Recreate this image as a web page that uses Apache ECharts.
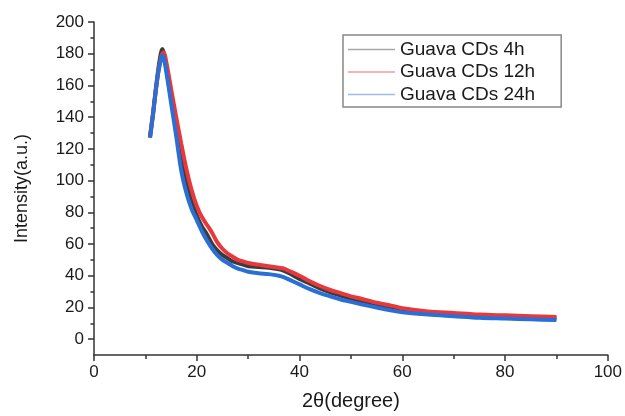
<!DOCTYPE html>
<html>
<head>
<meta charset="utf-8">
<script src="https://cdn.jsdelivr.net/npm/echarts@6/dist/echarts.min.js"></script>
<style>html,body{margin:0;padding:0;background:#fff}#c{width:625px;height:416px}</style>
</head>
<body>
<div id="c"></div>
<script>
const seriesNames = ['Guava CDs 4h', 'Guava CDs 12h', 'Guava CDs 24h'];
const twoTheta = [10.9, 11.5, 12, 12.5, 13, 13.3, 13.6, 14, 15, 16, 17, 18, 19, 20, 21, 22, 23, 24, 25, 26, 27, 28, 29, 30, 32, 34, 36, 37, 38, 40, 42, 44, 46, 48, 50, 52, 55, 58, 60, 65, 70, 75, 80, 85, 90];
const intensity4h  = [128, 143, 157, 170, 180, 183, 180, 172, 152, 133, 116, 100, 88, 78, 71, 66, 60, 56, 53, 51, 49, 48, 47, 46, 45.5, 45, 44, 43, 41.5, 38, 35, 32, 29.5, 27.5, 25.5, 24, 21.5, 19.5, 18.5, 17, 15.5, 15, 14.5, 14, 13];
const intensity12h = [127, 142, 156, 168, 177, 180, 181, 176, 158, 140, 123, 107, 94, 84, 77, 72, 67, 61, 57, 54, 52, 50, 49, 48, 47, 46, 45, 44.5, 43, 40, 36.5, 33.5, 31, 29, 27, 25.5, 23, 21, 19.5, 17.5, 16.5, 15.5, 15, 14.5, 14];
const intensity24h = [127, 142, 156, 168, 176, 179, 177, 170, 149, 128, 106, 92, 82, 75, 68, 62, 57, 53, 50, 48, 46, 44.5, 43.5, 42.5, 41.5, 41, 40, 39, 37.5, 34.5, 31.5, 29, 27, 25, 23.5, 22, 20, 18, 17, 15.5, 14.5, 13.5, 13, 12.5, 12];
const yMajorTicks = [0, 20, 40, 60, 80, 100, 120, 140, 160, 180, 200];
const yMinorTicks = [10, 30, 50, 70, 90, 110, 130, 150, 170, 190];

const colors = ['#3c3c3c', '#e8383c', '#2a6fd6'];
const legendColors = ['#a8a8a8', '#f09a9c', '#9dbbe3'];
const ys = [intensity4h, intensity12h, intensity24h];
const font = 'Liberation Sans, Arial, sans-serif';

const chart = echarts.init(document.getElementById('c'), null, {renderer: 'canvas'});
chart.setOption({
  animation: false,
  backgroundColor: '#fff',
  grid: {left: 94, right: 15, top: 22, bottom: 55, containLabel: false},
  legend: {
    orient: 'vertical',
    left: 343, top: 35,
    padding: [5, 26, 3, 5],
    itemGap: 3.5,
    itemWidth: 47, itemHeight: 1.5,
    icon: 'rect',
    borderColor: '#888', borderWidth: 1.5,
    textStyle: {fontFamily: font, fontSize: 19, color: '#1a1a1a', lineHeight: 18},
    data: seriesNames.map((n, i) => ({name: n, icon: 'rect', itemStyle: {color: legendColors[i], borderWidth: 0}}))
  },
  xAxis: {
    type: 'value', min: 0, max: 100, interval: 20,
    name: '2θ(degree)', nameLocation: 'middle', nameGap: 36,
    nameTextStyle: {fontFamily: font, fontSize: 20, color: '#1a1a1a'},
    axisLine: {show: true, onZero: false, lineStyle: {color: '#333', width: 1.5}},
    axisTick: {show: true, inside: false, length: 6, lineStyle: {color: '#333', width: 1.5}},
    minorTick: {show: true, splitNumber: 2, length: 4, lineStyle: {color: '#333', width: 1.5}},
    axisLabel: {fontFamily: font, fontSize: 17, color: '#1a1a1a', margin: 9},
    splitLine: {show: false}
  },
  yAxis: [{
    type: 'value', min: -10, max: 200,
    name: 'Intensity(a.u.)', nameLocation: 'middle', nameGap: 63,
    nameTextStyle: {fontFamily: font, fontSize: 18, color: '#1a1a1a'},
    axisLine: {show: true, onZero: false, lineStyle: {color: '#333', width: 1.5}},
    axisTick: {show: true, inside: false, length: 6, customValues: yMajorTicks, lineStyle: {color: '#333', width: 1.5}},
    axisLabel: {fontFamily: font, fontSize: 17, color: '#1a1a1a', margin: 10, customValues: yMajorTicks},
    splitLine: {show: false}
  }, {
    type: 'value', min: -10, max: 200, position: 'left',
    axisLine: {show: false},
    axisTick: {show: true, inside: false, length: 3.5, customValues: yMinorTicks, lineStyle: {color: '#333', width: 1.5}},
    axisLabel: {show: false},
    splitLine: {show: false}
  }],
  series: seriesNames.map((n, i) => ({
    name: n, type: 'line', showSymbol: false, smooth: 0.3,
    xAxisIndex: 0, yAxisIndex: 0,
    data: twoTheta.map((x, k) => [x, ys[i][k]]),
    lineStyle: {color: colors[i], width: 4},
    itemStyle: {color: colors[i]},
    z: 2 + i
  }))
});
</script>
</body>
</html>
